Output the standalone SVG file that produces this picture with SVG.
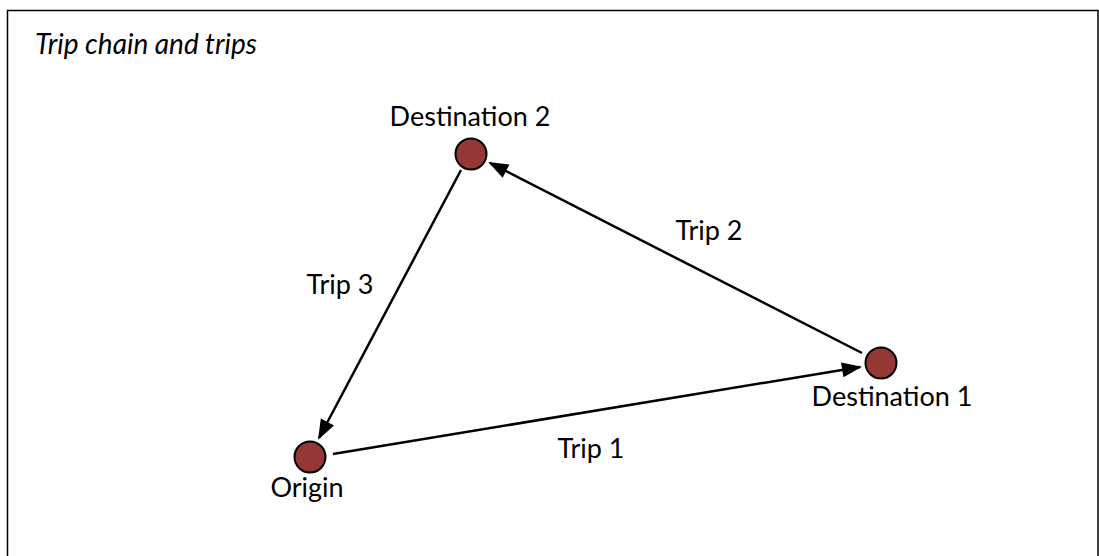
<svg xmlns="http://www.w3.org/2000/svg" width="1099" height="556" viewBox="0 0 1099 556">
  <defs>
    <marker id="arrow" viewBox="0 0 20 15" refX="18" refY="7.5" markerWidth="20" markerHeight="15" markerUnits="userSpaceOnUse" orient="auto" overflow="visible">
      <path d="M0,0 L20,7.5 L0,15 z" fill="#000"/>
    </marker>
    <style>
      .frame { fill: #fff; stroke: #000; stroke-width: 1.5; }
      .stop { fill: #953735; stroke: #000; stroke-width: 2; }
      .trip { stroke: #000; stroke-width: 2.5; fill: none; marker-end: url(#arrow); }
      .label { font-family: Lato, "Liberation Sans", sans-serif; font-size: 27px; fill: #000; text-anchor: middle; }
      .title { font-family: Lato, "Liberation Sans", sans-serif; font-size: 28px; font-style: italic; fill: #000; }
    </style>
  </defs>

  <rect x="0" y="0" width="1099" height="556" fill="#fff"/>
  <rect class="frame" x="7.5" y="10.5" width="1090.5" height="560"/>

  <text class="title" x="35" y="54">Trip chain and trips</text>

  <!-- connectors -->
  <g id="connectors">
    <line id="trip1" class="trip" x1="333" y1="454" x2="860" y2="367"/>
    <line id="trip2" class="trip" x1="862" y1="353" x2="490" y2="163"/>
    <line id="trip3" class="trip" x1="461" y1="170" x2="319" y2="438"/>
    <text class="label" x="591" y="458">Trip 1</text>
    <text class="label" x="709" y="240">Trip 2</text>
    <text class="label" x="340" y="294">Trip 3</text>
  </g>

  <g id="origin">
    <circle class="stop" cx="310" cy="457" r="15.5"/>
    <text class="label" x="307" y="497">Origin</text>
  </g>

  <g id="destination1">
    <circle class="stop" cx="881" cy="363" r="15.5"/>
    <text class="label" x="892" y="406">Destination 1</text>
  </g>

  <g id="destination2">
    <circle class="stop" cx="471" cy="154" r="15.5"/>
    <text class="label" x="470" y="126">Destination 2</text>
  </g>
</svg>
